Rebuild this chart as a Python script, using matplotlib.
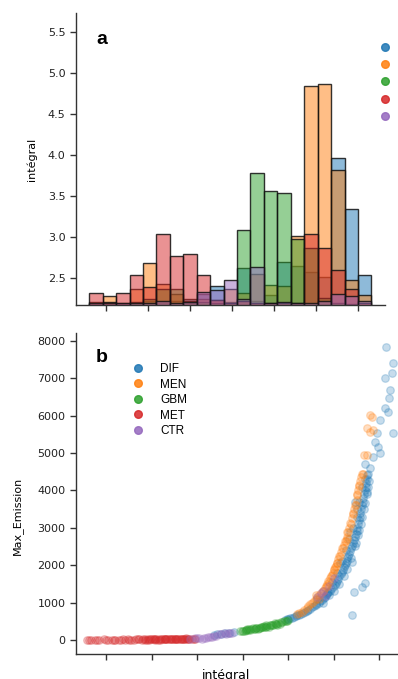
import matplotlib
matplotlib.use("Agg")
import matplotlib.pyplot as plt
from matplotlib.lines import Line2D
from matplotlib.colors import to_rgba

# ---------------- data ----------------
categories = ["DIF", "MEN", "GBM", "MET", "CTR"]
palette = ["#1f77b4", "#ff7f0e", "#2ca02c", "#d62728", "#9467bd"]

bin_edges = [2.30, 2.46, 2.62, 2.78, 2.94, 3.10, 3.26, 3.42, 3.58, 3.74, 3.90,
             4.06, 4.22, 4.38, 4.54, 4.70, 4.86, 5.02, 5.18, 5.34, 5.50, 5.66]

hist_DIF = [2.18, 2.18, 2.18, 2.19, 2.22, 2.20, 2.22, 2.24, 2.30, 2.40, 2.21,
            2.62, 2.22, 2.29, 2.70, 2.64, 2.57, 2.51, 3.96, 3.34, 2.54]
hist_MEN = [2.21, 2.28, 2.19, 2.37, 2.68, 2.43, 2.30, 2.20, 2.24, 2.23, 2.37,
            2.32, 2.545, 2.41, 2.40, 3.01, 4.84, 4.87, 3.82, 2.48, 2.29]
hist_GBM = [2.00, 2.00, 2.00, 2.21, 2.24, 2.37, 2.37, 2.22, 2.21, 2.19, 2.20,
            3.08, 3.78, 3.56, 3.53, 2.98, 2.86, 2.25, 2.20, 2.18, 2.10]
hist_MET = [2.32, 2.21, 2.32, 2.53, 2.39, 3.03, 2.77, 2.79, 2.53, 2.23, 2.20,
            2.22, 2.20, 2.20, 2.20, 2.20, 3.03, 2.87, 2.60, 2.36, 2.19]
hist_CTR = [2.19, 2.19, 2.20, 2.20, 2.20, 2.22, 2.20, 2.21, 2.33, 2.35, 2.48,
            2.24, 2.63, 2.20, 2.21, 2.19, 2.20, 2.22, 2.30, 2.28, 2.22]
hist_values = [hist_DIF, hist_MEN, hist_GBM, hist_MET, hist_CTR]

hist_yticks = [2.5, 3.0, 3.5, 4.0, 4.5, 5.0, 5.5]
x_ticks = [2.5, 3.0, 3.5, 4.0, 4.5, 5.0, 5.5]
emission_yticks = [0, 1000, 2000, 3000, 4000, 5000, 6000, 7000, 8000]

# scatter (intégral, Max_Emission) per category
MET_x = [2.29, 2.33, 2.38, 2.42, 2.47, 2.52, 2.56, 2.60, 2.64, 2.68, 2.71, 2.74,
         2.77, 2.80, 2.83, 2.86, 2.89, 2.92, 2.95, 2.98, 3.01, 3.04, 3.07, 3.10,
         3.13, 3.16, 3.19, 3.22, 3.25, 3.28, 3.31, 3.34, 3.37, 3.40, 3.44, 3.48,
         2.90, 2.96, 3.02, 3.08, 3.14, 3.20, 3.26, 3.32, 3.38,
         2.31, 2.40, 2.50, 2.58, 2.66, 2.75, 2.85, 2.93, 2.99, 3.05, 3.11, 3.17,
         3.23, 3.29, 3.35, 3.41, 3.46, 2.97, 3.03, 3.09, 3.15, 3.21, 3.27, 3.33, 3.39]
MET_y = [10, 5, 12, 8, 15, 10, 6, 12, 8, 15, 10, 18,
         12, 8, 16, 20, 12, 18, 10, 22, 15, 20, 12, 25,
         18, 22, 14, 26, 20, 28, 16, 30, 24, 32, 28, 35,
         25, 30, 28, 35, 30, 38, 34, 40, 42,
         8, 6, 5, 10, 12, 10, 15, 12, 18, 16, 20, 18,
         22, 20, 26, 30, 32, 8, 10, 12, 14, 15, 18, 20, 22]

CTR_x = [3.42, 3.47, 3.52, 3.57, 3.62, 3.66, 3.70, 3.74, 3.79, 3.84, 3.88,
         3.55, 3.64, 4.82, 4.86, 4.90, 4.95, 5.00,
         3.50, 3.60, 3.68, 3.76, 3.82, 3.86, 4.88]
CTR_y = [35, 45, 50, 60, 70, 90, 120, 150, 180, 190, 200,
         40, 80, 1150, 1250, 1180, 1450, 1650,
         55, 65, 100, 160, 170, 190, 1300]

GBM_x = [3.97, 4.00, 4.03, 4.06, 4.09, 4.12, 4.15, 4.18, 4.21, 4.24, 4.27,
         4.30, 4.33, 4.36, 4.39, 4.42, 4.45, 4.48, 4.05, 4.11, 4.17, 4.23,
         4.29, 4.35, 4.41, 4.14, 4.26, 4.38, 4.02, 4.20,
         3.99, 4.04, 4.08, 4.13, 4.19, 4.25, 4.31, 4.37, 4.43, 4.47, 4.50,
         4.07, 4.22, 4.32]
GBM_y = [240, 250, 260, 275, 285, 300, 310, 325, 340, 355, 370,
         390, 410, 430, 450, 470, 495, 520, 290, 320, 300, 370,
         360, 450, 440, 330, 400, 410, 230, 345,
         245, 265, 280, 300, 330, 360, 395, 430, 470, 500, 530,
         300, 340, 410]

DIF_x = [3.68, 3.72, 3.76, 3.80, 3.85, 3.90,
         4.46, 4.50, 4.54, 4.58, 4.62, 4.66, 4.70, 4.74, 4.78,
         4.84, 4.87, 4.90, 4.93, 4.96, 4.99, 5.02, 5.05, 5.08, 5.10, 5.12,
         5.14, 5.16, 5.18, 5.20, 5.22, 5.24, 5.26, 5.28, 5.29, 5.31, 5.32,
         5.34, 5.35, 5.37,
         4.82, 4.88, 4.95, 5.00, 5.06, 5.11, 5.15, 5.19, 5.23, 5.27, 5.30,
         5.33, 5.36, 5.38, 4.98, 5.04, 5.09, 5.13, 5.17, 5.21, 5.25, 5.28,
         5.31, 4.80, 4.92, 5.07, 5.18, 5.26, 5.34,
         5.57, 5.65, 5.64, 5.56, 5.62, 5.61, 5.56, 5.59, 5.51, 5.47, 5.65,
         5.49, 5.51, 5.34, 5.40, 5.23, 5.20, 5.34, 5.31, 5.22, 5.20, 5.43, 5.45,
         4.48, 4.52, 4.56, 4.60, 4.64, 4.68, 4.72, 4.76, 4.80, 4.85, 4.89, 4.91,
         4.94, 4.97, 5.01, 5.03, 5.06, 5.09, 5.11, 5.13, 5.15, 5.17, 5.19, 5.21,
         5.23, 5.25, 5.27, 5.29, 5.30, 5.32, 5.33, 5.35, 5.36, 5.38, 5.39, 5.37,
         5.34, 5.31, 5.28, 5.24]
DIF_y = [140, 170, 150, 200, 180, 210,
         540, 570, 600, 640, 680, 720, 780, 830, 900,
         1000, 1080, 1150, 1230, 1320, 1420, 1520, 1640, 1760, 1880, 2000,
         2120, 2250, 2380, 2520, 2680, 2840, 3000, 3200, 3400, 3600, 3800,
         4000, 4200, 4400,
         1100, 1000, 1200, 1300, 1500, 1700, 1900, 2200, 2500, 2800, 3100,
         3500, 3900, 4100, 1550, 1800, 2100, 2400, 2700, 3000, 3300, 3700,
         4100, 950, 1250, 2050, 2900, 3500, 4300,
         7830, 7400, 7140, 7000, 6680, 6470, 6200, 6100, 5880, 5530, 5530,
         5150, 5000, 4700, 4600, 3690, 2085, 1520, 1430, 1280, 670, 4900, 5300,
         560, 580, 620, 660, 700, 750, 800, 870, 930, 1050, 1120, 1190,
         1280, 1370, 1470, 1580, 1700, 1820, 1940, 2060, 2180, 2310, 2450, 2600,
         2760, 2920, 3100, 3300, 3500, 3700, 3900, 4100, 4300, 4450, 4250, 3950,
         3650, 3300, 2950, 2600]

MEN_x = [4.60, 4.65, 4.70, 4.74, 4.78, 4.82, 4.86, 4.90, 4.93, 4.96, 4.99,
         5.02, 5.05, 5.08, 5.11, 5.14, 5.17, 5.20, 5.22, 5.25, 5.27, 5.29, 5.31,
         4.80, 4.88, 4.95, 5.00, 5.06, 5.10, 5.15, 5.19, 5.23, 5.26, 5.28,
         4.84, 4.92, 5.04, 5.13, 5.21,
         5.40, 5.42, 5.37, 5.43, 5.40, 5.33, 5.36,
         4.62, 4.67, 4.72, 4.76, 4.80, 4.84, 4.88, 4.91, 4.94, 4.97, 5.00, 5.03,
         5.07, 5.09, 5.12, 5.16, 5.18, 5.21, 5.24, 5.26, 5.28, 5.30, 5.32, 4.98,
         5.01, 5.14]
MEN_y = [700, 760, 850, 950, 1050, 1150, 1260, 1380, 1500, 1650, 1800,
         1980, 2160, 2350, 2550, 2760, 3000, 3250, 3500, 3750, 4000, 4250, 4450,
         1200, 1300, 1550, 1900, 2250, 2450, 2900, 3100, 3600, 3900, 4150,
         1100, 1450, 2050, 2650, 3400,
         6010, 5950, 5670, 5600, 5560, 4950, 4950,
         730, 800, 900, 1000, 1100, 1200, 1320, 1440, 1570, 1720, 1880, 2070,
         2250, 2450, 2650, 2880, 3120, 3370, 3620, 3870, 4120, 4350, 4450, 1750,
         1950, 2700]

scatter_x = [DIF_x, MEN_x, GBM_x, MET_x, CTR_x]
scatter_y = [DIF_y, MEN_y, GBM_y, MET_y, CTR_y]

# ---------------- figure ----------------
W, H = 398, 679
fig = plt.figure(figsize=(W / 100, H / 100), dpi=100)


def px_axes(left, top, right, bottom):
    return fig.add_axes([left / W, 1 - bottom / H, (right - left) / W, (bottom - top) / H])


spine_col = "#333333"

# ---- panel a: layered histogram ----
ax1 = px_axes(76, 13, 385, 305)
widths = [bin_edges[i + 1] - bin_edges[i] for i in range(len(bin_edges) - 1)]
for vals, col in zip(hist_values, palette):
    ax1.bar(bin_edges[:-1], vals, width=widths, align="edge",
            color=to_rgba(col, 0.5), edgecolor=to_rgba("#111111", 0.85),
            linewidth=1.0)
ax1.set_xlim(2.143, 5.821)
ax1.set_ylim(2.17, 5.73)
ax1.set_yticks(hist_yticks)
ax1.set_yticklabels([f"{v:.1f}" for v in hist_yticks])
ax1.set_xticks(x_ticks)
ax1.set_xticklabels([])
ax1.set_ylabel("intégral", fontsize=8)
ax1.yaxis.set_label_coords(-0.125, 0.5)

# ---- panel b: scatter ----
ax2 = px_axes(76, 333, 410, 654.3)
for xs, ys, col in zip(scatter_x, scatter_y, palette):
    ax2.scatter(xs, ys, s=30, color=col, alpha=0.25, edgecolors=col,
                linewidths=0.9, zorder=2)
ax2.set_xlim(2.167, 5.837)
ax2.set_ylim(-382, 8206)
ax2.set_yticks(emission_yticks)
ax2.set_xticks(x_ticks)
ax2.set_xticklabels([])
ax2.set_ylabel("Max_Emission", fontsize=8)
ax2.yaxis.set_label_coords(-0.16, 0.43)
ax2.set_xlabel("intégral", fontsize=9)
ax2.xaxis.set_label_coords(0.449, -0.047)

for ax in (ax1, ax2):
    for s in ("top", "right"):
        ax.spines[s].set_visible(False)
    for s in ("left", "bottom"):
        ax.spines[s].set_color(spine_col)
        ax.spines[s].set_linewidth(1.0)
    ax.tick_params(axis="both", colors=spine_col, labelsize=8, length=4,
                   width=1.0, labelcolor="#222222")

fig.text(102 / W, 1 - 40 / H, "a", fontsize=14, fontweight="bold",
         family="Liberation Sans", ha="center", va="center")
fig.text(102 / W, 1 - 358 / H, "b", fontsize=14, fontweight="bold",
         family="Liberation Sans", ha="center", va="center")

# legends
handles = [Line2D([], [], marker="o", linestyle="", markersize=5.5,
                  markerfacecolor=c, markeredgecolor=c, alpha=0.85) for c in palette]

leg_b = ax2.legend(handles, categories, loc="upper left",
                   bbox_to_anchor=(132 / W, 1 - 363 / H),
                   bbox_transform=fig.transFigure, frameon=False,
                   borderpad=0, borderaxespad=0, handlelength=1.0,
                   handletextpad=1.4, labelspacing=0.3,
                   prop={"family": "Liberation Sans", "size": 8.5})

leg_a = ax1.legend(handles, categories, loc="upper left",
                   bbox_to_anchor=(379 / W, 1 - 42 / H),
                   bbox_transform=fig.transFigure, frameon=False,
                   borderpad=0, borderaxespad=0, handlelength=1.0,
                   handletextpad=1.4, labelspacing=0.45,
                   prop={"family": "Liberation Sans", "size": 8.5})

fig.savefig("out.png", dpi=100)
